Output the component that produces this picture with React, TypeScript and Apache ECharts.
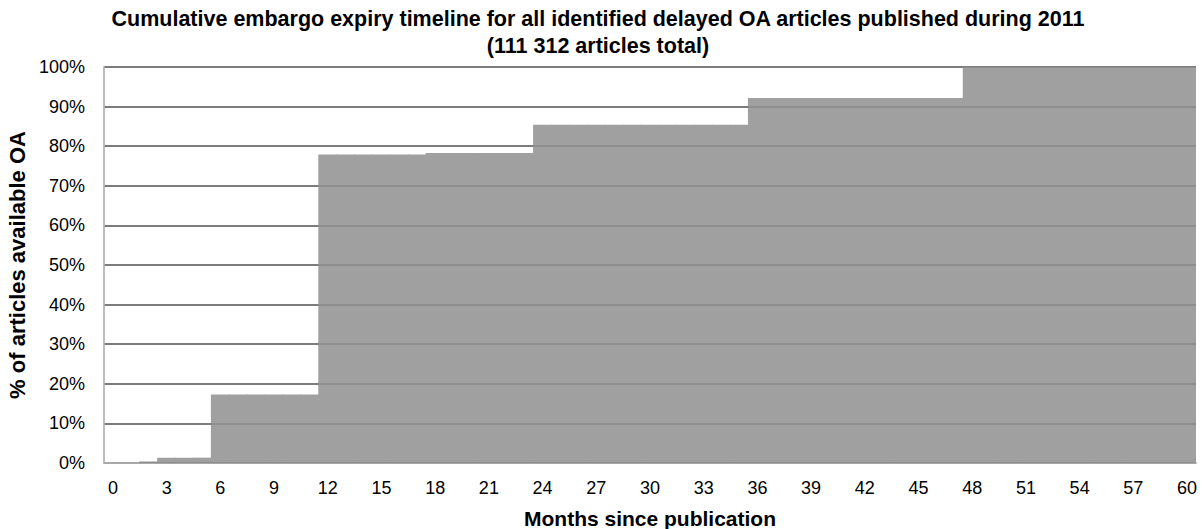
import React, { useEffect, useRef } from "react";
import * as echarts from "echarts";

const months = [
  "0", "1", "2", "3", "4", "5", "6", "7", "8", "9", "10", "11", "12", "13", "14", "15", "16", "17", "18", "19",
  "20", "21", "22", "23", "24", "25", "26", "27", "28", "29", "30", "31", "32", "33", "34", "35", "36", "37", "38", "39",
  "40", "41", "42", "43", "44", "45", "46", "47", "48", "49", "50", "51", "52", "53", "54", "55", "56", "57", "58", "59", "60",
];

// cumulative % of articles available OA, per month
const cumulativePct = [
  0, 0, 0.4, 1.35, 1.35, 1.35,
  17.3, 17.3, 17.3, 17.3, 17.3, 17.3,
  77.9, 77.9, 77.9, 77.9, 77.9, 77.9,
  78.3, 78.3, 78.3, 78.3, 78.3, 78.3,
  85.4, 85.4, 85.4, 85.4, 85.4, 85.4, 85.4, 85.4, 85.4, 85.4, 85.4, 85.4,
  92.2, 92.2, 92.2, 92.2, 92.2, 92.2, 92.2, 92.2, 92.2, 92.2, 92.2, 92.2,
  100, 100, 100, 100, 100, 100, 100, 100, 100, 100, 100, 100, 100,
];

const titleLines = [
  "Cumulative embargo expiry timeline for all identified delayed OA articles published during 2011",
  "(111 312 articles total)",
];

export default function App() {
  const ref = useRef<HTMLDivElement>(null);
  useEffect(() => {
    if (!ref.current) return;
    const chart = echarts.init(ref.current, null, { renderer: "svg" });
    const font = "Liberation Sans";
    chart.setOption({
      animation: false,
      backgroundColor: "#ffffff",
      title: {
        text: titleLines.join("\n"),
        left: 598,
        textAlign: "center",
        top: 5,
        padding: 0,
        textStyle: { fontFamily: font, fontSize: 21.5, fontWeight: "bold", color: "#000", lineHeight: 27 },
      },
      grid: { left: 104, right: 8, top: 67, bottom: 66, containLabel: false, outerBoundsMode: "none" },
      xAxis: {
        type: "category",
        data: months,
        name: "Months since publication",
        nameLocation: "middle",
        nameGap: 45,
        nameTextStyle: { fontFamily: font, fontSize: 21, fontWeight: "bold", color: "#000" },
        axisLine: { show: true, lineStyle: { color: "#bdbdbd", width: 2 } },
        axisTick: { show: false },
        axisLabel: { interval: 2, fontFamily: font, fontSize: 18, color: "#000", margin: 16 },
        splitLine: { show: false },
      },
      yAxis: [
        {
          type: "value",
          min: 0,
          max: 100,
          interval: 10,
          name: "% of articles available OA",
          nameLocation: "middle",
          nameGap: 73,
          nameTextStyle: { fontFamily: font, fontSize: 22, fontWeight: "bold", color: "#000" },
          axisLine: { show: true, lineStyle: { color: "#bdbdbd", width: 2 } },
          axisTick: { show: false },
          axisLabel: { formatter: "{value}%", fontFamily: font, fontSize: 18, color: "#000", margin: 19 },
          splitLine: { show: true, lineStyle: { color: "#666666", width: 1.5 } },
        },
        {
          type: "value",
          min: 0,
          max: 100,
          interval: 10,
          position: "left",
          z: 3,
          axisLine: { show: false },
          axisTick: { show: false },
          axisLabel: { show: false },
          splitLine: { show: true, lineStyle: { color: "rgba(0,0,0,0.15)", width: 1.5 } },
        },
      ],
      series: [
        {
          type: "bar",
          data: cumulativePct,
          yAxisIndex: 0,
          barWidth: "106%",
          barGap: "-100%",
          itemStyle: { color: "#a0a0a0" },
        },
      ],
    });
    return () => chart.dispose();
  }, []);
  return <div ref={ref} style={{ position: "absolute", left: 0, top: 0, width: 1204, height: 529 }} />;
}
